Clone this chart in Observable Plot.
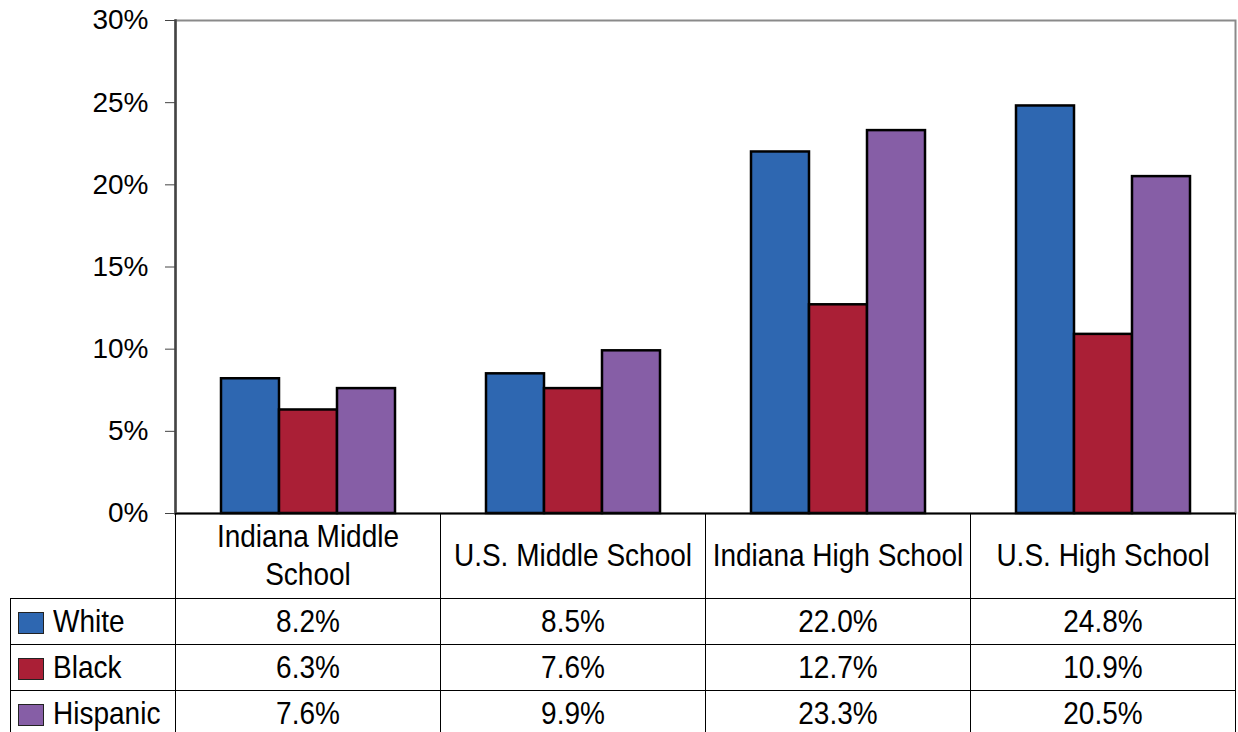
<!DOCTYPE html>
<html>
<head>
<meta charset="utf-8">
<script src="https://cdn.jsdelivr.net/npm/d3@7"></script>
<script src="https://cdn.jsdelivr.net/npm/@observablehq/plot@0.6"></script>
<style>
  html, body { margin: 0; padding: 0; background: #fff; }
  #wrap { position: relative; width: 1238px; height: 732px; overflow: hidden; font-family: "Liberation Sans", Arial, sans-serif; }
  #chart { position: absolute; left: 0; top: 0; }
  #tbl { position: absolute; left: 10px; top: 513px; border-collapse: collapse; table-layout: fixed; width: 1225px; font-size: 28px; color: #000; background: transparent; }
  #tbl td { border: 1px solid #000; padding: 0; text-align: center; vertical-align: middle; line-height: 34px; }
  #tbl td .t { display: inline-block; transform: scaleY(1.1); }
  #tbl tr.head td { height: 84px; }
  #tbl tr.row td { height: 45px; }
  #tbl td.blank { border: none; }
  #tbl td.leg { text-align: left; white-space: nowrap; }
  .sw { display: inline-block; width: 24px; height: 20px; border: 1px solid #222; margin-left: 7px; margin-right: 9px; vertical-align: -3px; }
</style>
</head>
<body>
<div id="wrap">
  <div id="chart"></div>
  <table id="tbl"></table>
</div>
<script>
const categories = ["Indiana Middle School", "U.S. Middle School", "Indiana High School", "U.S. High School"];
const races = ["White", "Black", "Hispanic"];
const colors = ["#2E67B1", "#AA1F36", "#865EA6"];
const whiteValues = [8.2, 8.5, 22.0, 24.8];
const blackValues = [6.3, 7.6, 12.7, 10.9];
const hispanicValues = [7.6, 9.9, 23.3, 20.5];
const yTicks = [0, 5, 10, 15, 20, 25, 30];

const seriesValues = [whiteValues, blackValues, hispanicValues];
const data = [];
races.forEach((r, i) => categories.forEach((c, j) => data.push({category: c, race: r, value: seriesValues[i][j]})));

const chart = Plot.plot({
  width: 1238,
  height: 540,
  marginLeft: 175,
  marginRight: 3,
  marginTop: 20,
  marginBottom: 27,
  style: {fontFamily: '"Liberation Sans", Arial, sans-serif', fontSize: "27px", color: "#000", background: "transparent"},
  fx: {domain: categories, padding: 0, axis: null},
  x: {domain: races, paddingInner: 0, paddingOuter: 0.77, axis: null},
  y: {domain: [0, 30], ticks: yTicks, tickFormat: d => d + "%", label: null, tickSize: 10, tickPadding: 17},
  color: {domain: races, range: colors},
  marks: [
    Plot.frame({facet: "super", stroke: "#8a8a8a", strokeWidth: 2}),
    Plot.barY(data, {fx: "category", x: "race", y: "value", fill: "race", stroke: "#000", strokeWidth: 2.5}),
    Plot.ruleY([0], {stroke: "#111", strokeWidth: 2}),
    Plot.frame({facet: "super", anchor: "left", stroke: "#444", strokeWidth: 2.5}),
    Plot.axisY({ticks: yTicks, tickFormat: d => d + "%", tickSize: 10, tickPadding: 17, stroke: "#444", fontSize: 28, label: null})
  ]
});
document.getElementById("chart").appendChild(chart);

// data table below the chart
function textSpan(s) { const sp = document.createElement("span"); sp.className = "t"; sp.textContent = s; return sp; }
const tbl = document.getElementById("tbl");
const cg = document.createElement("colgroup");
[165, 265, 265, 265, 265].forEach(w => { const col = document.createElement("col"); col.style.width = w + "px"; cg.appendChild(col); });
tbl.appendChild(cg);
const head = document.createElement("tr");
head.className = "head";
const blank = document.createElement("td"); blank.className = "blank"; head.appendChild(blank);
categories.forEach(c => {
  const td = document.createElement("td");
  td.appendChild(textSpan(c));
  head.appendChild(td);
});
tbl.appendChild(head);
races.forEach((r, i) => {
  const tr = document.createElement("tr");
  tr.className = "row";
  const leg = document.createElement("td");
  leg.className = "leg";
  const sw = document.createElement("span"); sw.className = "sw"; sw.style.background = colors[i];
  leg.appendChild(sw);
  leg.appendChild(textSpan(r));
  tr.appendChild(leg);
  seriesValues[i].forEach(v => { const td = document.createElement("td"); td.appendChild(textSpan(v.toFixed(1) + "%")); tr.appendChild(td); });
  tbl.appendChild(tr);
});
</script>
</body>
</html>
